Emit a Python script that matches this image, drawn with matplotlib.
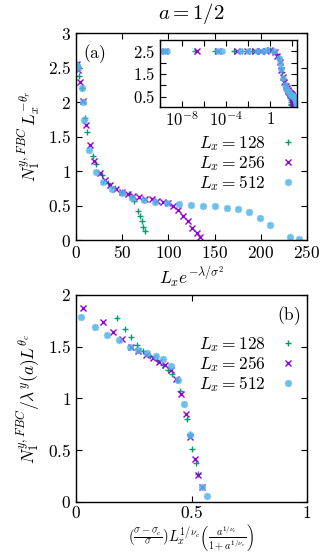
import numpy as np
import matplotlib
matplotlib.use("Agg")
import matplotlib.pyplot as plt
from matplotlib.path import Path
from matplotlib.ticker import FuncFormatter, MultipleLocator, FixedLocator, NullFormatter

plt.rcParams['mathtext.fontset'] = 'cm'
plt.rcParams['font.family'] = ['DejaVu Serif']
plt.rcParams['font.size'] = 12.5

# --- colours / labels ---
C128 = '#009e73'
C256 = '#9400d3'
C512 = '#56b4e9'

# --- panel (a): scaling variable L_x exp(-lambda/sigma^2) ---
a_x128 = [3e-10, 1.5e-7, 1e-5, 5e-4, 3e-3, 0.02, 0.08, 0.25, 1.0, 3.6, 6.1, 9.7, 12.3,
          18, 21.3, 27.8, 35, 42, 50, 57, 63, 67.4, 69.3, 71, 72.9, 75]
a_y128 = [2.52, 2.52, 2.52, 2.52, 2.52, 2.52, 2.52, 2.53, 2.55, 2.37, 2.21, 1.77, 1.57,
          1.22, 1.10, 0.94, 0.82, 0.75, 0.70, 0.66, 0.57, 0.42, 0.35, 0.27, 0.19, 0.135]

a_x256 = [3e-10, 2.5e-7, 2e-5, 1e-3, 8e-3, 0.04, 0.15, 0.4, 1.0, 2.5, 4.3, 7.2, 10.5, 15.2,
          19.5, 25.5, 31.4, 36.8, 43.3, 49.4, 55.9, 62, 68.5, 74.7, 81.9, 88, 93.8, 99.2,
          105.3, 110.7, 116, 121, 126, 130.6, 134.2]
a_y256 = [2.52, 2.52, 2.52, 2.52, 2.52, 2.52, 2.52, 2.53, 2.55, 2.46, 2.29, 2.01, 1.67, 1.37,
          1.14, 0.975, 0.87, 0.80, 0.74, 0.70, 0.67, 0.64, 0.62, 0.60, 0.59, 0.57, 0.555, 0.54,
          0.49, 0.43, 0.35, 0.27, 0.17, 0.10, 0.04]

a_x512 = [2e-10, 4e-10, 2e-5, 4e-5, 2e-3, 1e-2, 0.06, 0.2, 0.5, 2.0, 6.1, 7.2, 8.7, 14.4,
          21.6, 29.6, 39, 49.4, 61, 73.6, 86, 98.8, 111.5, 124.5, 137.8, 150.4, 163, 175.6,
          187.6, 199, 210, 231.6, 241.7]
a_y512 = [2.52, 2.52, 2.52, 2.52, 2.52, 2.52, 2.52, 2.53, 2.54, 2.50, 2.20, 2.00, 1.74, 1.30,
          0.99, 0.84, 0.74, 0.68, 0.61, 0.58, 0.555, 0.54, 0.52, 0.51, 0.50, 0.49, 0.47, 0.45,
          0.40, 0.32, 0.22, 0.04, 0.01]

# --- panel (b): scaling variable for the sigma_c collapse ---
b_x128 = [0.176, 0.21, 0.238, 0.263, 0.292, 0.32, 0.352, 0.378, 0.40, 0.417, 0.436, 0.448,
          0.48, 0.494, 0.504, 0.519, 0.53]
b_y128 = [1.775, 1.67, 1.59, 1.517, 1.46, 1.41, 1.37, 1.32, 1.28, 1.237, 1.18, 1.075,
          0.80, 0.66, 0.51, 0.38, 0.27]

b_x256 = [0.032, 0.118, 0.162, 0.20, 0.237, 0.27, 0.303, 0.332, 0.361, 0.386, 0.41, 0.433,
          0.456, 0.476, 0.494, 0.513, 0.53, 0.546]
b_y256 = [1.87, 1.74, 1.645, 1.57, 1.50, 1.46, 1.42, 1.39, 1.355, 1.32, 1.275, 1.185,
          1.045, 0.853, 0.625, 0.42, 0.26, 0.14]

b_x512 = [0.0217, 0.0824, 0.136, 0.186, 0.234, 0.27, 0.309, 0.345, 0.378, 0.41, 0.44,
          0.468, 0.494, 0.545, 0.566]
b_y512 = [1.79, 1.69, 1.61, 1.565, 1.50, 1.47, 1.437, 1.41, 1.38, 1.314, 1.18,
          0.947, 0.647, 0.148, 0.055]

# gnuplot-like asterisk (plus and cross on top of each other)
_s = 0.72
STAR = Path([(-1, 0), (1, 0), (0, -1), (0, 1), (-_s, -_s), (_s, _s), (-_s, _s), (_s, -_s)],
            [Path.MOVETO, Path.LINETO] * 4)

def mfmt(v, pos):
    return f'${v:g}$'

def style_ax(ax):
    ax.tick_params(which='both', direction='in', top=True, right=True, length=4.5, width=0.8)
    for s in ax.spines.values():
        s.set_linewidth(1.0)

def draw_series(ax, xs, ys, ms=5):
    ax.plot(xs[0], ys[0], ls='none', marker='+', color=C128, ms=ms, mew=1.0,
            label=r'$L_x = 128$')
    ax.plot(xs[1], ys[1], ls='none', marker='x', color=C256, ms=ms * 0.85, mew=1.0,
            label=r'$L_x = 256$')
    ax.plot(xs[2], ys[2], ls='none', marker=STAR, color=C512, ms=ms * 1.05, mew=1.5,
            alpha=0.85, label=r'$L_x = 512$')

fig = plt.figure(figsize=(3.35, 5.52), dpi=100)
axA = fig.add_axes([0.2269, 0.5652, 0.6896, 0.375])
axB = fig.add_axes([0.2269, 0.0906, 0.6896, 0.375])

# panel (a)
draw_series(axA, [a_x128, a_x256, a_x512], [a_y128, a_y256, a_y512])
axA.set_xlim(0, 250)
axA.set_ylim(0, 3)
axA.xaxis.set_major_locator(MultipleLocator(50))
axA.yaxis.set_major_locator(MultipleLocator(0.5))
axA.xaxis.set_major_formatter(FuncFormatter(mfmt))
axA.yaxis.set_major_formatter(FuncFormatter(mfmt))
style_ax(axA)
axA.set_xlabel(r'$L_x e^{-\lambda/\sigma^2}$', labelpad=2)
axA.set_ylabel(r'$N_1^{y,FBC}\,L_x^{-\theta_r}$', labelpad=4)
axA.set_title(r'$a = 1/2$', pad=10)
axA.text(0.03, 0.955, r'$\mathrm{(a)}$', transform=axA.transAxes, ha='left', va='top')
axA.legend(loc='upper right', bbox_to_anchor=(1.0, 0.56), frameon=False,
           markerfirst=False, labelspacing=0.0, handlelength=1.0, handletextpad=0.8,
           borderaxespad=0.2)

# inset of (a) on a log axis
axI = fig.add_axes([0.4776, 0.8067, 0.408, 0.1208])
draw_series(axI, [a_x128, a_x256, a_x512], [a_y128, a_y256, a_y512], ms=4.5)
axI.set_xscale('log')
axI.set_xlim(1e-10, 250)
axI.set_ylim(0.05, 3.0)
axI.xaxis.set_major_locator(FixedLocator([1e-10, 1e-8, 1e-6, 1e-4, 1e-2, 1, 1e2]))
axI.xaxis.set_minor_formatter(NullFormatter())
axI.xaxis.set_minor_locator(FixedLocator([]))
def ifmt(v, pos):
    e = int(round(np.log10(v)))
    if e == 0:
        return '$1$'
    if e in (-8, -4):
        return f'$10^{{{e}}}$'
    return ''
axI.xaxis.set_major_formatter(FuncFormatter(ifmt))
axI.yaxis.set_major_locator(FixedLocator([0.5, 1.5, 2.5]))
axI.yaxis.set_minor_locator(FixedLocator([1.0, 2.0]))
axI.yaxis.set_major_formatter(FuncFormatter(mfmt))
style_ax(axI)
axI.tick_params(which='minor', length=4.5)
axI.tick_params(axis='both', labelsize=12, pad=3)

# panel (b)
draw_series(axB, [b_x128, b_x256, b_x512], [b_y128, b_y256, b_y512])
axB.set_xlim(0, 1)
axB.set_ylim(0, 2)
axB.xaxis.set_major_locator(MultipleLocator(0.5))
axB.yaxis.set_major_locator(MultipleLocator(0.5))
axB.xaxis.set_major_formatter(FuncFormatter(mfmt))
axB.yaxis.set_major_formatter(FuncFormatter(mfmt))
style_ax(axB)
axB.tick_params(axis='x', pad=2.5)
axB.set_xlabel(r'$(\frac{\sigma-\sigma_c}{\sigma})L_x^{1/\nu_c}\left(\frac{a^{1/\nu_c}}{1+a^{1/\nu_c}}\right)$',
               fontsize=10.5, va='center')
axB.xaxis.set_label_coords(0.5, -0.17)
axB.set_ylabel(r'$N_1^{y,FBC}/\lambda^y(a)L^{\theta_c}$', labelpad=4)
axB.text(0.97, 0.955, r'$\mathrm{(b)}$', transform=axB.transAxes, ha='right', va='top')
axB.legend(loc='upper right', bbox_to_anchor=(1.0, 0.855), frameon=False,
           markerfirst=False, labelspacing=0.0, handlelength=1.0, handletextpad=0.8,
           borderaxespad=0.2)

fig.savefig('out.png', dpi=100)
